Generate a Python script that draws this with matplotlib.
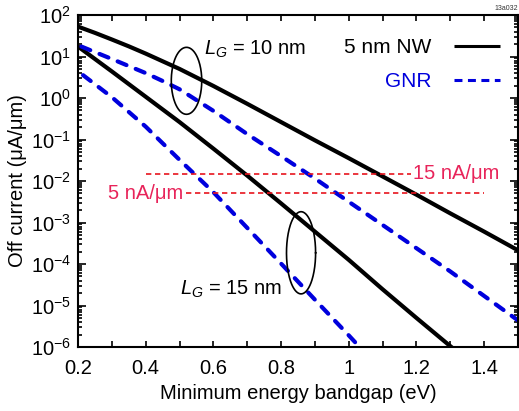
import numpy as np
import matplotlib
matplotlib.use("Agg")
import matplotlib.pyplot as plt
from matplotlib.ticker import LogLocator, MultipleLocator, NullFormatter

plt.rcParams['font.family'] = ['Liberation Sans', 'DejaVu Sans']
plt.rcParams['mathtext.fontset'] = 'custom'
plt.rcParams['mathtext.rm'] = 'Liberation Sans'
plt.rcParams['mathtext.it'] = 'Liberation Sans:italic'

# ---- data (log10 of off current, uA/um) ----
bandgap_nw10 = [0.2, 0.25, 0.3, 0.35, 0.4, 0.5, 0.6, 0.7, 0.8, 0.9, 1.0, 1.1, 1.2, 1.3, 1.4, 1.5]
nw_lg10_log = [1.72, 1.57, 1.41, 1.245, 1.07, 0.70, 0.29, -0.14, -0.58, -1.02, -1.45, -1.89, -2.33, -2.78, -3.22, -3.67]
bandgap_gnr10 = [0.21, 0.3, 0.4, 0.45, 0.5, 0.55, 0.6, 0.7, 0.8, 0.9, 1.0, 1.1, 1.2, 1.3, 1.4, 1.5]
gnr_lg10_log = [1.24, 0.94, 0.60, 0.41, 0.21, -0.05, -0.31, -0.87, -1.40, -1.94, -2.50, -3.06, -3.62, -4.18, -4.77, -5.36]
bandgap_nw15 = [0.2, 0.3, 0.4, 0.5, 0.6, 0.7, 0.8, 0.9, 1.0, 1.1, 1.2, 1.3, 1.35]
nw_lg15_log = [1.24, 0.64, 0.03, -0.58, -1.22, -1.87, -2.54, -3.22, -3.90, -4.61, -5.30, -5.98, -6.32]
bandgap_gnr15 = [0.215, 0.3, 0.4, 0.5, 0.6, 0.7, 0.8, 0.9, 1.0, 1.1]
gnr_lg15_log = [0.55, 0.02, -0.69, -1.49, -2.27, -3.13, -3.99, -4.86, -5.72, -6.60]

ref_15 = 1.5e-2   # 15 nA/um
ref_5 = 5e-3      # 5 nA/um

black = '#000000'
blue = '#0000dd'
red_line = '#e8141e'
red_text = '#e8245a'
FS = 14.5

fig = plt.figure(figsize=(5.19, 4.11), dpi=100)
ax = fig.add_axes([78/519, 1-347/411, (518-78)/519, (347-15)/411])

lw = 3.0
ax.plot(bandgap_nw10, 10**np.array(nw_lg10_log), color=black, lw=lw, solid_capstyle='butt')
ax.plot(bandgap_nw15, 10**np.array(nw_lg15_log), color=black, lw=lw, solid_capstyle='butt')
ax.plot(bandgap_gnr10, 10**np.array(gnr_lg10_log), color=blue, lw=lw, dashes=(2.3, 2.4), dash_capstyle='round')
ax.plot(bandgap_gnr15, 10**np.array(gnr_lg15_log), color=blue, lw=lw, dashes=(2.3, 2.4), dash_capstyle='round')

# reference lines
ax.plot([0.4, 1.185], [ref_15, ref_15], color=red_line, lw=1.2, dashes=(3.2, 2.2))
ax.plot([0.52, 1.40], [ref_5, ref_5], color=red_line, lw=1.2, dashes=(3.2, 2.2))
ax.text(1.19, ref_15, '15 nA/\u03bcm', color=red_text, fontsize=FS, va='center', ha='left')
ax.text(0.51, ref_5, '5 nA/\u03bcm', color=red_text, fontsize=FS, va='center', ha='right')

# ellipses (in log space)
def ellipse(cx, cy_log, a, b):
    t = np.linspace(0, 2*np.pi, 200)
    return cx + a*np.cos(t), 10**(cy_log + b*np.sin(t))

ex, ey = ellipse(0.5206, 0.414, 0.045, 0.807)
ax.plot(ex, ey, color='black', lw=1.2)
ex, ey = ellipse(0.859, -3.73, 0.043, 0.99)
ax.plot(ex, ey, color='black', lw=1.2)

ax.text(0.572, 10**1.18, r'$L_G$ = 10 nm', fontsize=FS, ha='left', va='center')
ax.text(0.50, 10**-4.6, r'$L_G$ = 15 nm', fontsize=FS, ha='left', va='center')

# legend (manual handles)
h1, = ax.plot([], [], color=black, lw=2.2, solid_capstyle='butt', label='5 nm NW')
h2, = ax.plot([], [], color=blue, lw=2.2, dashes=(2.6, 1.8), label='GNR')
leg = ax.legend(handles=[h1, h2], loc='upper right', bbox_to_anchor=(0.959, 0.93),
                frameon=False, markerfirst=False, fontsize=15, handlelength=2.2,
                handletextpad=1.1, labelspacing=0.72, borderpad=0, borderaxespad=0)
leg.get_texts()[1].set_color(blue)

ax.set_xlim(0.2, 1.5)
ax.set_yscale('log')
ax.set_ylim(1e-6, 1e2)
ax.xaxis.set_minor_locator(MultipleLocator(0.1))
ax.set_xticks([0.2, 0.4, 0.6, 0.8, 1.0, 1.2, 1.4])
ax.set_xticklabels(['0.2', '0.4', '0.6', '0.8', '1', '1.2', '1.4'])
ax.yaxis.set_major_locator(LogLocator(base=10, numticks=20))
ax.yaxis.set_minor_locator(LogLocator(base=10, subs=np.arange(2, 10), numticks=20))
ax.yaxis.set_minor_formatter(NullFormatter())
ax.tick_params(which='both', direction='in', top=True, right=True, labelsize=FS, width=1.2)
ax.tick_params(axis='y', which='major', length=6, pad=5)
ax.tick_params(axis='y', which='minor', length=3)
ax.tick_params(axis='x', which='both', length=4)
ax.tick_params(axis='x', which='major', pad=9)
for s in ax.spines.values():
    s.set_linewidth(1.5)

ax.set_xlabel('Minimum energy bandgap (eV)', fontsize=FS, labelpad=4)
ax.set_ylabel('Off current (\u03bcA/\u03bcm)', fontsize=FS, labelpad=3)

fig.text(0.999, 0.988, '13a032', fontsize=5, ha='right', va='top', color='#333333')

fig.savefig('out.png', dpi=100)
